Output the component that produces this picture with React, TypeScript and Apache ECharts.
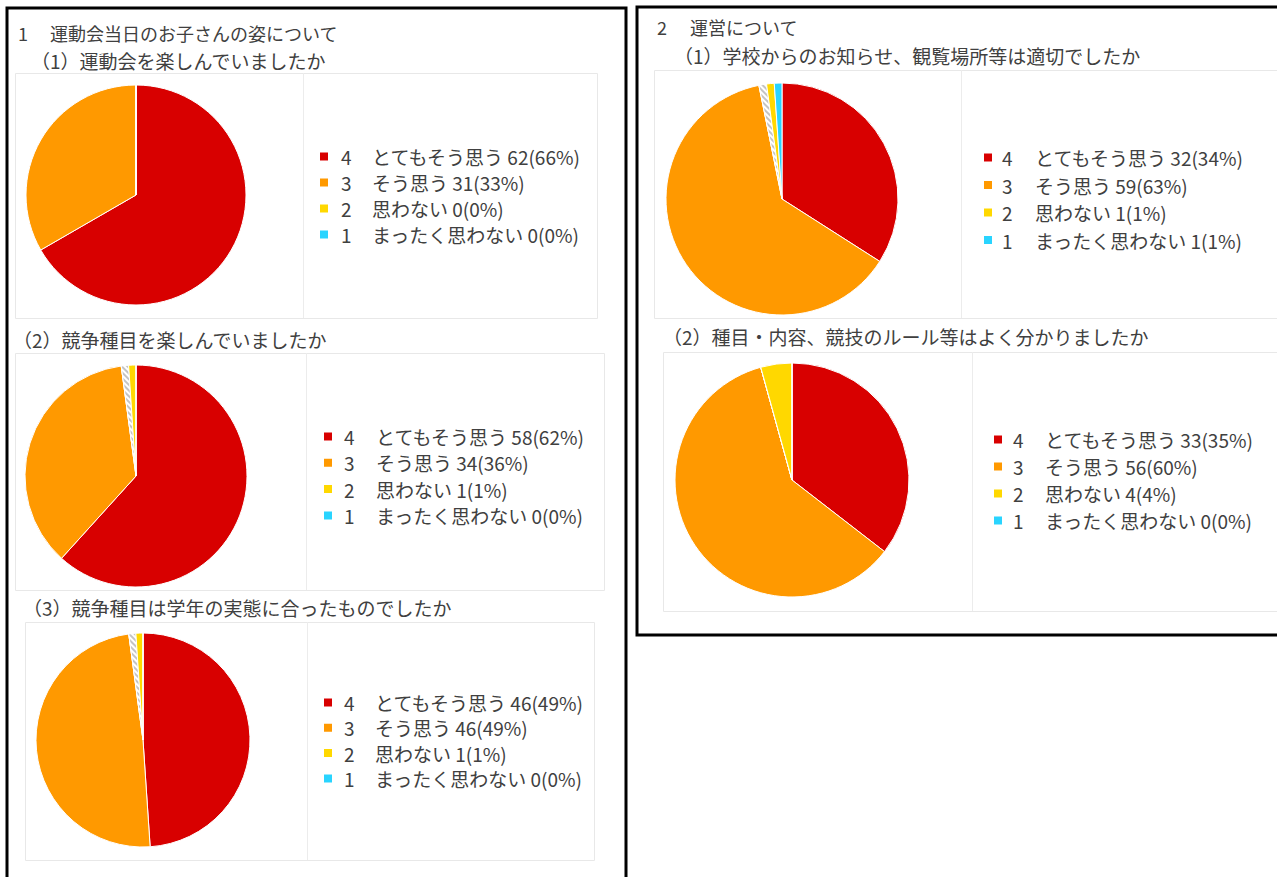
import React, { useEffect, useRef } from "react";
import * as echarts from "echarts";

// ---- data ----
const categories = ["4", "3", "2", "1"];
const categoryLabels = ["とてもそう思う", "そう思う", "思わない", "まったく思わない"];
const noAnswerName = "無回答";

const q1Values = [62, 31, 0, 0];
const q1Percents = [66, 33, 0, 0];
const q2Values = [58, 34, 1, 0];
const q2Percents = [62, 36, 1, 0];
const q3Values = [46, 46, 1, 0];
const q3Percents = [49, 49, 1, 0];
const q4Values = [32, 59, 1, 1];
const q4Percents = [34, 63, 1, 1];
const q5Values = [33, 56, 4, 0];
const q5Percents = [35, 60, 4, 0];
const noAnswerValues = [0, 1, 1, 1, 0];

const sectionTitles = ["運動会当日のお子さんの姿について", "運営について"];
const questionTitles = [
  "（1）運動会を楽しんでいましたか",
  "（2）競争種目を楽しんでいましたか",
  "（3）競争種目は学年の実態に合ったものでしたか",
  "（1）学校からのお知らせ、観覧場所等は適切でしたか",
  "（2）種目・内容、競技のルール等はよく分かりましたか",
];

const colors = ["#d80000", "#ff9900", "#ffd800", "#29d4ff"];
const FONT = "'Noto Sans CJK JP', 'Noto Sans', sans-serif";
const TEXT_COLOR = "#404040";

type Layout = {
  center: [number, number];
  radius: number;
  box: [number, number, number, number];
  divider: number;
  legendLeft: number;
  legendTop: number;
  legendGap: number;
  numPad: number;
  numWidth: number;
  titleX: number;
  titleY: number;
};

const layouts: Layout[] = [
  { center: [136, 195], radius: 110, box: [15, 73, 597, 318], divider: 303, legendLeft: 318, legendTop: 147, legendGap: 7, numPad: 7, numWidth: 31, titleX: 31, titleY: 60 },
  { center: [136, 476], radius: 111, box: [15, 353, 604, 590], divider: 306, legendLeft: 322, legendTop: 427, legendGap: 7.3, numPad: 6, numWidth: 32, titleX: 13, titleY: 339 },
  { center: [143, 740], radius: 107, box: [25, 622, 594, 860], divider: 307, legendLeft: 322, legendTop: 693, legendGap: 6.3, numPad: 6, numWidth: 31, titleX: 23, titleY: 607 },
  { center: [782, 199], radius: 116, box: [654, 70, 1290, 318], divider: 961, legendLeft: 982, legendTop: 148, legendGap: 8.5, numPad: 4, numWidth: 33, titleX: 674, titleY: 55 },
  { center: [792, 480], radius: 117, box: [663, 352, 1290, 611], divider: 972, legendLeft: 992, legendTop: 430, legendGap: 8, numPad: 5, numWidth: 32, titleX: 663, titleY: 336 },
];

const valueSets = [q1Values, q2Values, q3Values, q4Values, q5Values];
const percentSets = [q1Percents, q2Percents, q3Percents, q4Percents, q5Percents];

export default function App() {
  const ref = useRef<HTMLDivElement>(null);

  useEffect(() => {
    if (!ref.current) return;
    const chart = echarts.init(ref.current, undefined, { renderer: "svg" });

    const series: any[] = [];
    const legends: any[] = [];
    const graphics: any[] = [];

    // panel borders
    graphics.push({
      type: "rect",
      shape: { x: 7, y: 8, width: 619, height: 900 },
      style: { fill: "none", stroke: "#000", lineWidth: 3 },
    });
    graphics.push({
      type: "rect",
      shape: { x: 637, y: 7, width: 700, height: 628 },
      style: { fill: "none", stroke: "#000", lineWidth: 3 },
    });

    // section titles
    graphics.push({ type: "text", x: 18, y: 33, style: { text: "1", font: `18px ${FONT}`, fill: TEXT_COLOR, verticalAlign: "middle" } });
    graphics.push({ type: "text", x: 50, y: 33, style: { text: sectionTitles[0], font: `18px ${FONT}`, fill: TEXT_COLOR, verticalAlign: "middle" } });
    graphics.push({ type: "text", x: 657, y: 27, style: { text: "2", font: `18px ${FONT}`, fill: TEXT_COLOR, verticalAlign: "middle" } });
    graphics.push({ type: "text", x: 690, y: 27, style: { text: sectionTitles[1], font: `18px ${FONT}`, fill: TEXT_COLOR, verticalAlign: "middle" } });

    layouts.forEach((L, i) => {
      const vals = valueSets[i];
      const pcts = percentSets[i];
      const [x1, y1, x2, y2] = L.box;

      graphics.push({
        type: "rect",
        shape: { x: x1 + 0.5, y: y1 + 0.5, width: x2 - x1, height: y2 - y1 },
        style: { fill: "none", stroke: "#e8e8e8", lineWidth: 1 },
      });
      graphics.push({
        type: "line",
        shape: { x1: L.divider + 0.5, y1: y1, x2: L.divider + 0.5, y2: y2 },
        style: { stroke: "#ececec", lineWidth: 1 },
      });
      graphics.push({
        type: "text",
        x: L.titleX,
        y: L.titleY,
        style: { text: questionTitles[i], font: `19px ${FONT}`, fill: TEXT_COLOR, verticalAlign: "middle" },
      });

      const data: any[] = [
        { name: categories[0], value: vals[0], itemStyle: { color: colors[0] } },
        { name: categories[1], value: vals[1], itemStyle: { color: colors[1] } },
        {
          name: noAnswerName,
          value: noAnswerValues[i],
          itemStyle: {
            color: "#ffffff",
            decal: {
              symbol: "rect",
              symbolSize: 1,
              color: "#c4c4c4",
              dashArrayX: [1, 0],
              dashArrayY: [2, 2],
              rotation: Math.PI / 4,
            },
          },
        },
        { name: categories[2], value: vals[2], itemStyle: { color: colors[2] } },
        { name: categories[3], value: vals[3], itemStyle: { color: colors[3] } },
      ];

      series.push({
        type: "pie",
        center: L.center,
        radius: L.radius,
        startAngle: 90,
        clockwise: true,
        minShowLabelAngle: 0,
        avoidLabelOverlap: false,
        stillShowZeroSum: false,
        label: { show: false },
        labelLine: { show: false },
        emphasis: { disabled: true },
        itemStyle: { borderColor: "#ffffff", borderWidth: 1 },
        data,
      });

      const fmt = (name: string) => {
        const k = categories.indexOf(name);
        return `{n|${name}}{t|${categoryLabels[k]} ${vals[k]}(${pcts[k]}%)}`;
      };

      legends.push({
        orient: "vertical",
        left: L.legendLeft,
        top: L.legendTop,
        padding: 0,
        itemWidth: 10,
        itemHeight: 10,
        itemGap: L.legendGap,
        icon: "rect",
        selectedMode: false,
        data: categories,
        formatter: fmt,
        textStyle: {
          fontFamily: FONT,
          fontSize: 19,
          color: TEXT_COLOR,
          rich: {
            n: { fontFamily: FONT, fontSize: 19, color: TEXT_COLOR, width: L.numWidth, padding: [0, 0, 0, L.numPad] },
            t: { fontFamily: FONT, fontSize: 19, color: TEXT_COLOR },
          },
        },
      });
    });

    chart.setOption({
      animation: false,
      backgroundColor: "#ffffff",
      legend: legends,
      series,
      graphic: { elements: graphics },
    });

    return () => chart.dispose();
  }, []);

  return (
    <div
      ref={ref}
      style={{ position: "fixed", left: 0, top: 0, width: 1277, height: 877, background: "#fff" }}
    />
  );
}
